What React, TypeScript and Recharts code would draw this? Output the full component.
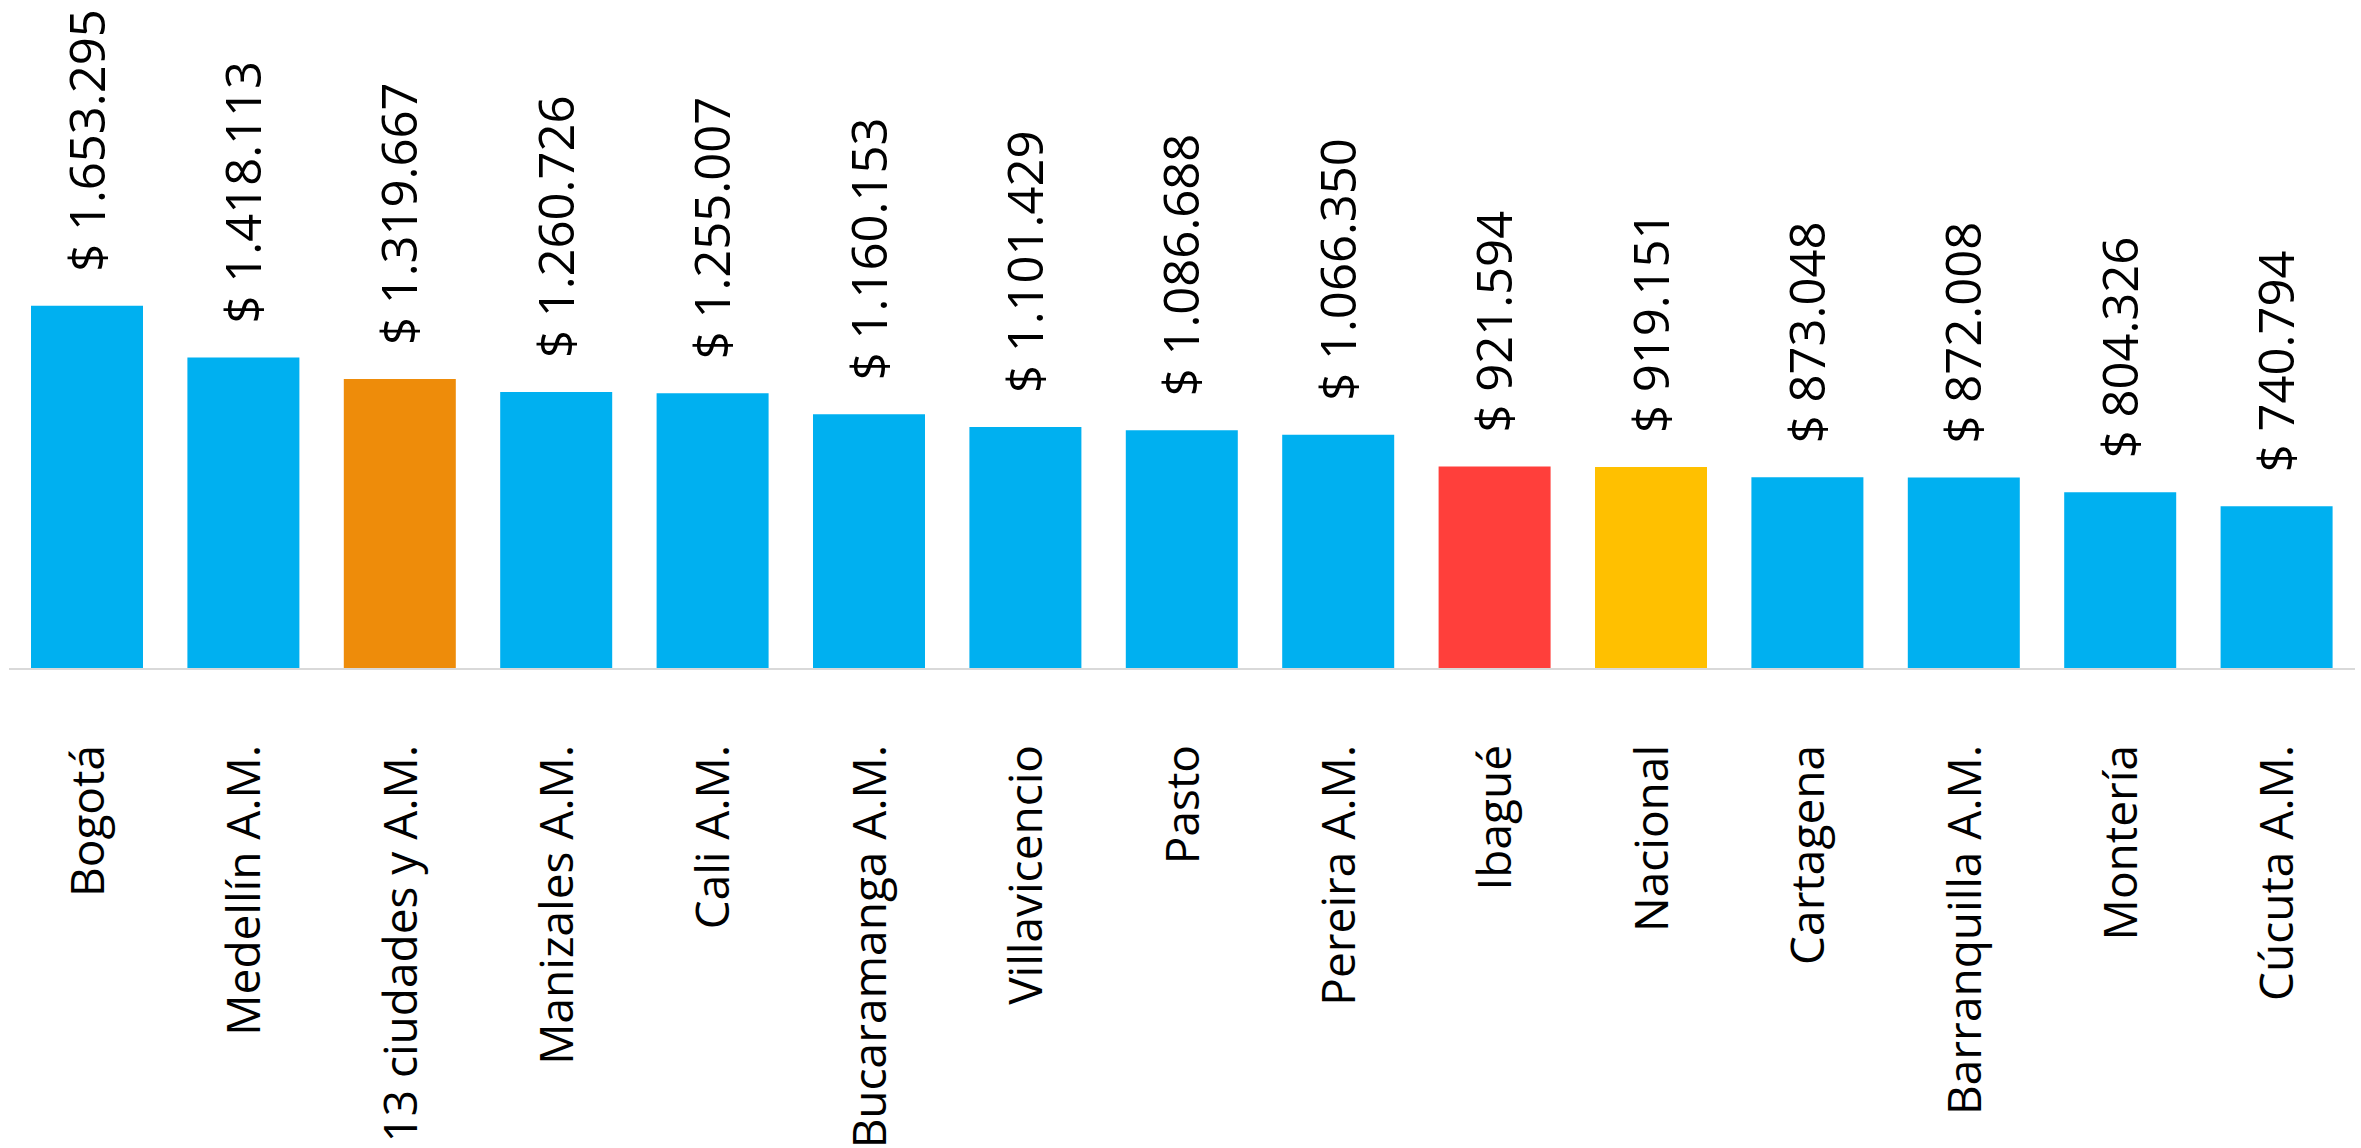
import React from 'react';
import { BarChart, Bar, XAxis, YAxis, Cell, LabelList } from 'recharts';

const cities = [
  'Bogotá',
  'Medellín A.M.',
  '13 ciudades y A.M.',
  'Manizales A.M.',
  'Cali A.M.',
  'Bucaramanga A.M.',
  'Villavicencio',
  'Pasto',
  'Pereira A.M.',
  'Ibagué',
  'Nacional',
  'Cartagena',
  'Barranquilla A.M.',
  'Montería',
  'Cúcuta A.M.',
];

const values = [
  1653295, 1418113, 1319667, 1260726, 1255007, 1160153, 1101429, 1086688,
  1066350, 921594, 919151, 873048, 872008, 804326, 740794,
];

const barColors = [
  '#00B0F0', '#00B0F0', '#EE8C0A', '#00B0F0', '#00B0F0', '#00B0F0', '#00B0F0', '#00B0F0',
  '#00B0F0', '#FF3F3B', '#FFC000', '#00B0F0', '#00B0F0', '#00B0F0', '#00B0F0',
];

const chartData = cities.map((city, i) => ({ city, value: values[i] }));

const FONT = '"Open Sans", sans-serif';

const formatPeso = (v: number) => '$ ' + String(v).replace(/\B(?=(\d{3})+(?!\d))/g, '.');

const CityTick = (props: any) => {
  const { x, y, payload } = props;
  return (
    <g transform={`translate(${x},${y + 76})`}>
      <text
        x={0}
        y={0}
        dy="0.36em"
        transform="rotate(-90)"
        textAnchor="end"
        fill="#000"
        fontSize={46}
        fontFamily={FONT}
      >
        {payload.value}
      </text>
    </g>
  );
};

const ValueLabel = (props: any) => {
  const { x, y, width, value } = props;
  const cx = x + width / 2;
  const cy = y - 34;
  return (
    <text
      x={cx}
      y={cy}
      dy="0.36em"
      transform={`rotate(-90, ${cx}, ${cy})`}
      textAnchor="start"
      fill="#000"
      fontSize={49}
      fontFamily={FONT}
    >
      {formatPeso(value)}
    </text>
  );
};

export default function App() {
  return (
    <div style={{ width: 2361, height: 1148, background: '#fff' }}>
      <style>{`body{margin:0;}`}</style>
      <BarChart
        width={2361}
        height={1148}
        data={chartData}
        margin={{ top: 10, right: 6, bottom: 0, left: 9 }}
      >
        <XAxis
          dataKey="city"
          interval={0}
          height={479}
          tickLine={false}
          tickSize={0}
          tickMargin={0}
          axisLine={{ stroke: '#D9D9D9', strokeWidth: 2 }}
          tick={<CityTick />}
        />
        <YAxis hide domain={[0, 3000000]} />
        <Bar dataKey="value" barSize={112} isAnimationActive={false}>
          {chartData.map((d, i) => (
            <Cell key={d.city} fill={barColors[i]} />
          ))}
          <LabelList dataKey="value" content={<ValueLabel />} />
        </Bar>
      </BarChart>
    </div>
  );
}
